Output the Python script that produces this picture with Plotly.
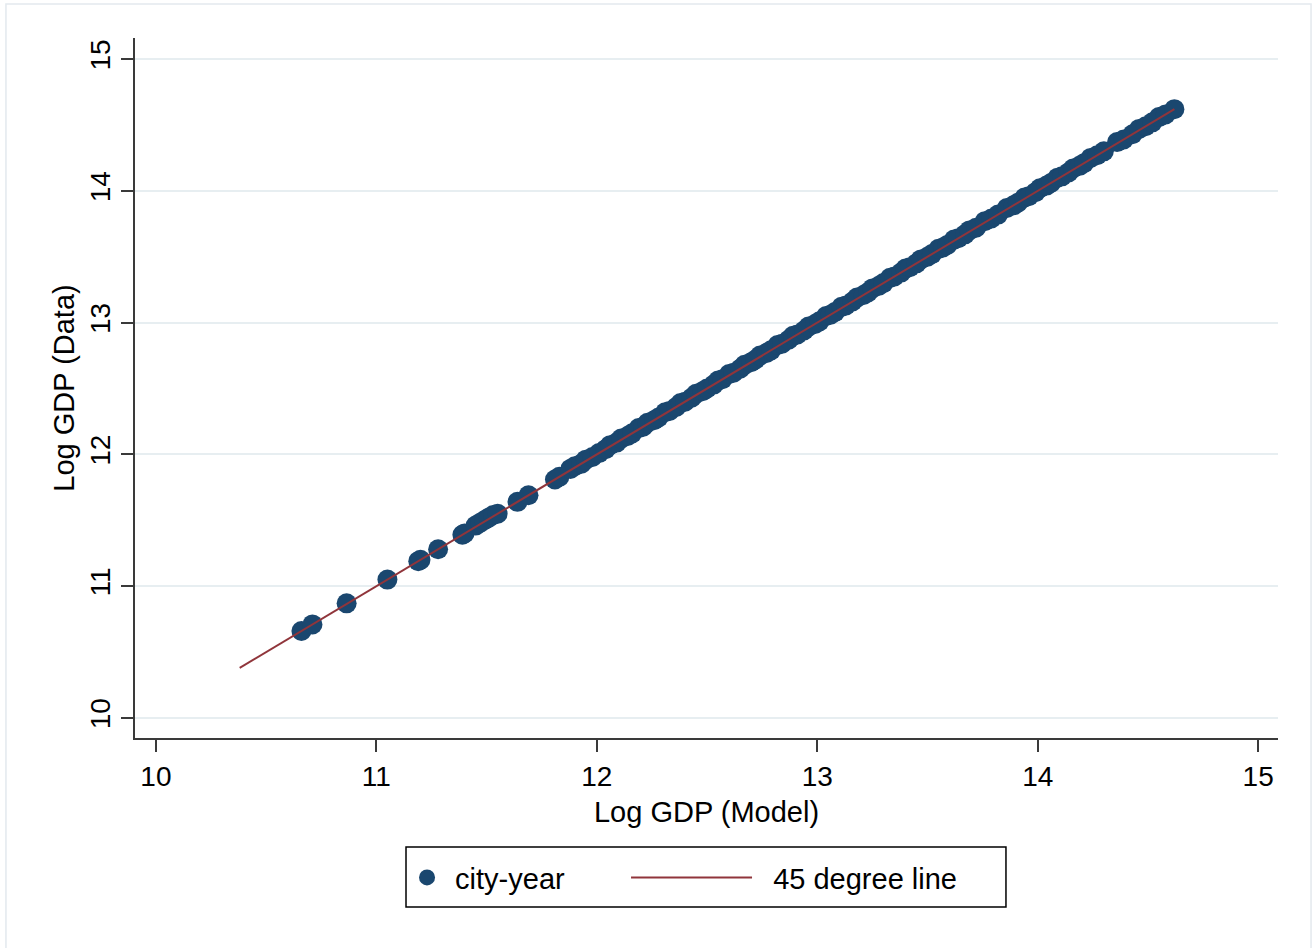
import plotly.graph_objects as go

# Log GDP by city-year: model prediction vs. observed data
model_log_gdp = [
    10.66, 10.71, 10.865, 11.05, 11.19, 11.20, 11.28, 11.39, 11.40, 11.45,
    11.47, 11.49, 11.51, 11.53, 11.55, 11.64, 11.69, 11.81, 11.83, 11.88,
    11.90, 11.93, 11.95, 11.98, 12.01, 12.04, 12.06, 12.09, 12.11, 12.14,
    12.16, 12.19, 12.21, 12.23, 12.26, 12.28, 12.31, 12.33, 12.36, 12.38,
    12.40, 12.43, 12.45, 12.48, 12.50, 12.53, 12.55, 12.57, 12.60, 12.62,
    12.65, 12.67, 12.70, 12.72, 12.74, 12.77, 12.79, 12.82, 12.84, 12.87,
    12.89, 12.91, 12.94, 12.96, 12.99, 13.01, 13.04, 13.06, 13.08, 13.11,
    13.13, 13.16, 13.18, 13.21, 13.23, 13.25, 13.28, 13.30, 13.33, 13.35,
    13.38, 13.40, 13.42, 13.45, 13.47, 13.50, 13.52, 13.55, 13.57, 13.59,
    13.62, 13.64, 13.67, 13.69, 13.72, 13.76, 13.79, 13.82, 13.86, 13.89,
    13.91, 13.94, 13.96, 13.99, 14.01, 14.04, 14.06, 14.09, 14.11, 14.14,
    14.16, 14.19, 14.21, 14.24, 14.27, 14.30, 14.36, 14.39, 14.43, 14.46,
    14.49, 14.52, 14.55, 14.58, 14.62,
]
data_log_gdp = [
    10.66, 10.71, 10.87, 11.05, 11.19, 11.20, 11.28, 11.39, 11.40, 11.46,
    11.48, 11.50, 11.52, 11.54, 11.55, 11.64, 11.69, 11.81, 11.83, 11.89,
    11.91, 11.93, 11.96, 11.98, 12.01, 12.04, 12.07, 12.09, 12.12, 12.14,
    12.16, 12.20, 12.21, 12.24, 12.26, 12.28, 12.32, 12.33, 12.36, 12.39,
    12.40, 12.43, 12.46, 12.48, 12.50, 12.53, 12.56, 12.57, 12.61, 12.62,
    12.65, 12.68, 12.70, 12.72, 12.75, 12.77, 12.79, 12.83, 12.84, 12.87,
    12.90, 12.91, 12.94, 12.97, 12.99, 13.01, 13.05, 13.06, 13.08, 13.12,
    13.13, 13.16, 13.19, 13.21, 13.23, 13.26, 13.28, 13.30, 13.34, 13.35,
    13.38, 13.41, 13.42, 13.45, 13.48, 13.50, 13.52, 13.56, 13.57, 13.59,
    13.63, 13.64, 13.67, 13.70, 13.72, 13.77, 13.79, 13.82, 13.87, 13.89,
    13.91, 13.95, 13.96, 13.99, 14.02, 14.04, 14.06, 14.10, 14.11, 14.14,
    14.17, 14.19, 14.21, 14.25, 14.27, 14.30, 14.37, 14.39, 14.43, 14.47,
    14.49, 14.52, 14.56, 14.58, 14.62,
]

# 45 degree reference line endpoints
ref_line = [10.38, 14.62]

x_ticks = [10, 11, 12, 13, 14, 15]
y_ticks = [10, 11, 12, 13, 14, 15]

NAVY = "#1a476f"
MAROON = "#90353b"
AXIS = "#3a3a3a"
GRID = "#e7eef1"
FONT = "Liberation Sans, Arial, Helvetica, sans-serif"
NBSP = "\u00a0"

fig = go.Figure()
fig.add_trace(go.Scatter(
    x=model_log_gdp, y=data_log_gdp, mode="markers", name=NBSP + "city-year",
    marker=dict(color=NAVY, size=20, line=dict(width=0)),
    legend="legend",
))
fig.add_trace(go.Scatter(
    x=ref_line, y=ref_line, mode="lines", name=NBSP * 2 + "45 degree line",
    line=dict(color=MAROON, width=2),
    legend="legend2",
))

axis_common = dict(
    showline=True, linecolor=AXIS, linewidth=2, mirror=False,
    ticks="outside", ticklen=12, tickwidth=2, tickcolor=AXIS,
    zeroline=False, tickfont=dict(family=FONT, size=28, color="black"),
)

fig.update_xaxes(
    range=[9.905, 15.09], tickvals=x_ticks, showgrid=False,
    title=dict(text="Log GDP (Model)", font=dict(family=FONT, size=29, color="black"), standoff=11),
    **axis_common,
)
fig.update_yaxes(
    range=[9.848, 15.16], tickvals=y_ticks, tickangle=-90,
    showgrid=True, gridcolor=GRID, gridwidth=2,
    title=dict(text="Log GDP (Data)", font=dict(family=FONT, size=29, color="black"), standoff=2),
    **axis_common,
)

# faint outer frame around the graph region
fig.add_shape(type="rect", xref="paper", yref="paper",
              x0=-0.1129, x1=1.0289, y0=-0.33, y1=1.0486,
              line=dict(color="#e3e9ee", width=1.5), fillcolor="rgba(0,0,0,0)", layer="below")
# single box enclosing both legend entries
fig.add_shape(type="rect", xref="paper", yref="paper",
              x0=0.2371, x1=0.762, y0=-0.2414, y1=-0.1557,
              line=dict(color="black", width=1.5), fillcolor="rgba(0,0,0,0)")

legend_common = dict(
    orientation="h", yanchor="top", y=-0.163, xanchor="left",
    borderwidth=0, bgcolor="rgba(0,0,0,0)",
    font=dict(family=FONT, size=29, color="black"),
)

fig.update_layout(
    width=1316, height=948,
    margin=dict(l=135, r=38, t=38, b=210),
    paper_bgcolor="white", plot_bgcolor="white",
    font=dict(family=FONT, color="black"),
    showlegend=True,
    legend=dict(x=0.238, itemwidth=30, **legend_common),
    legend2=dict(x=0.4296, itemwidth=121, **legend_common),
)

fig.write_html("out.html")
